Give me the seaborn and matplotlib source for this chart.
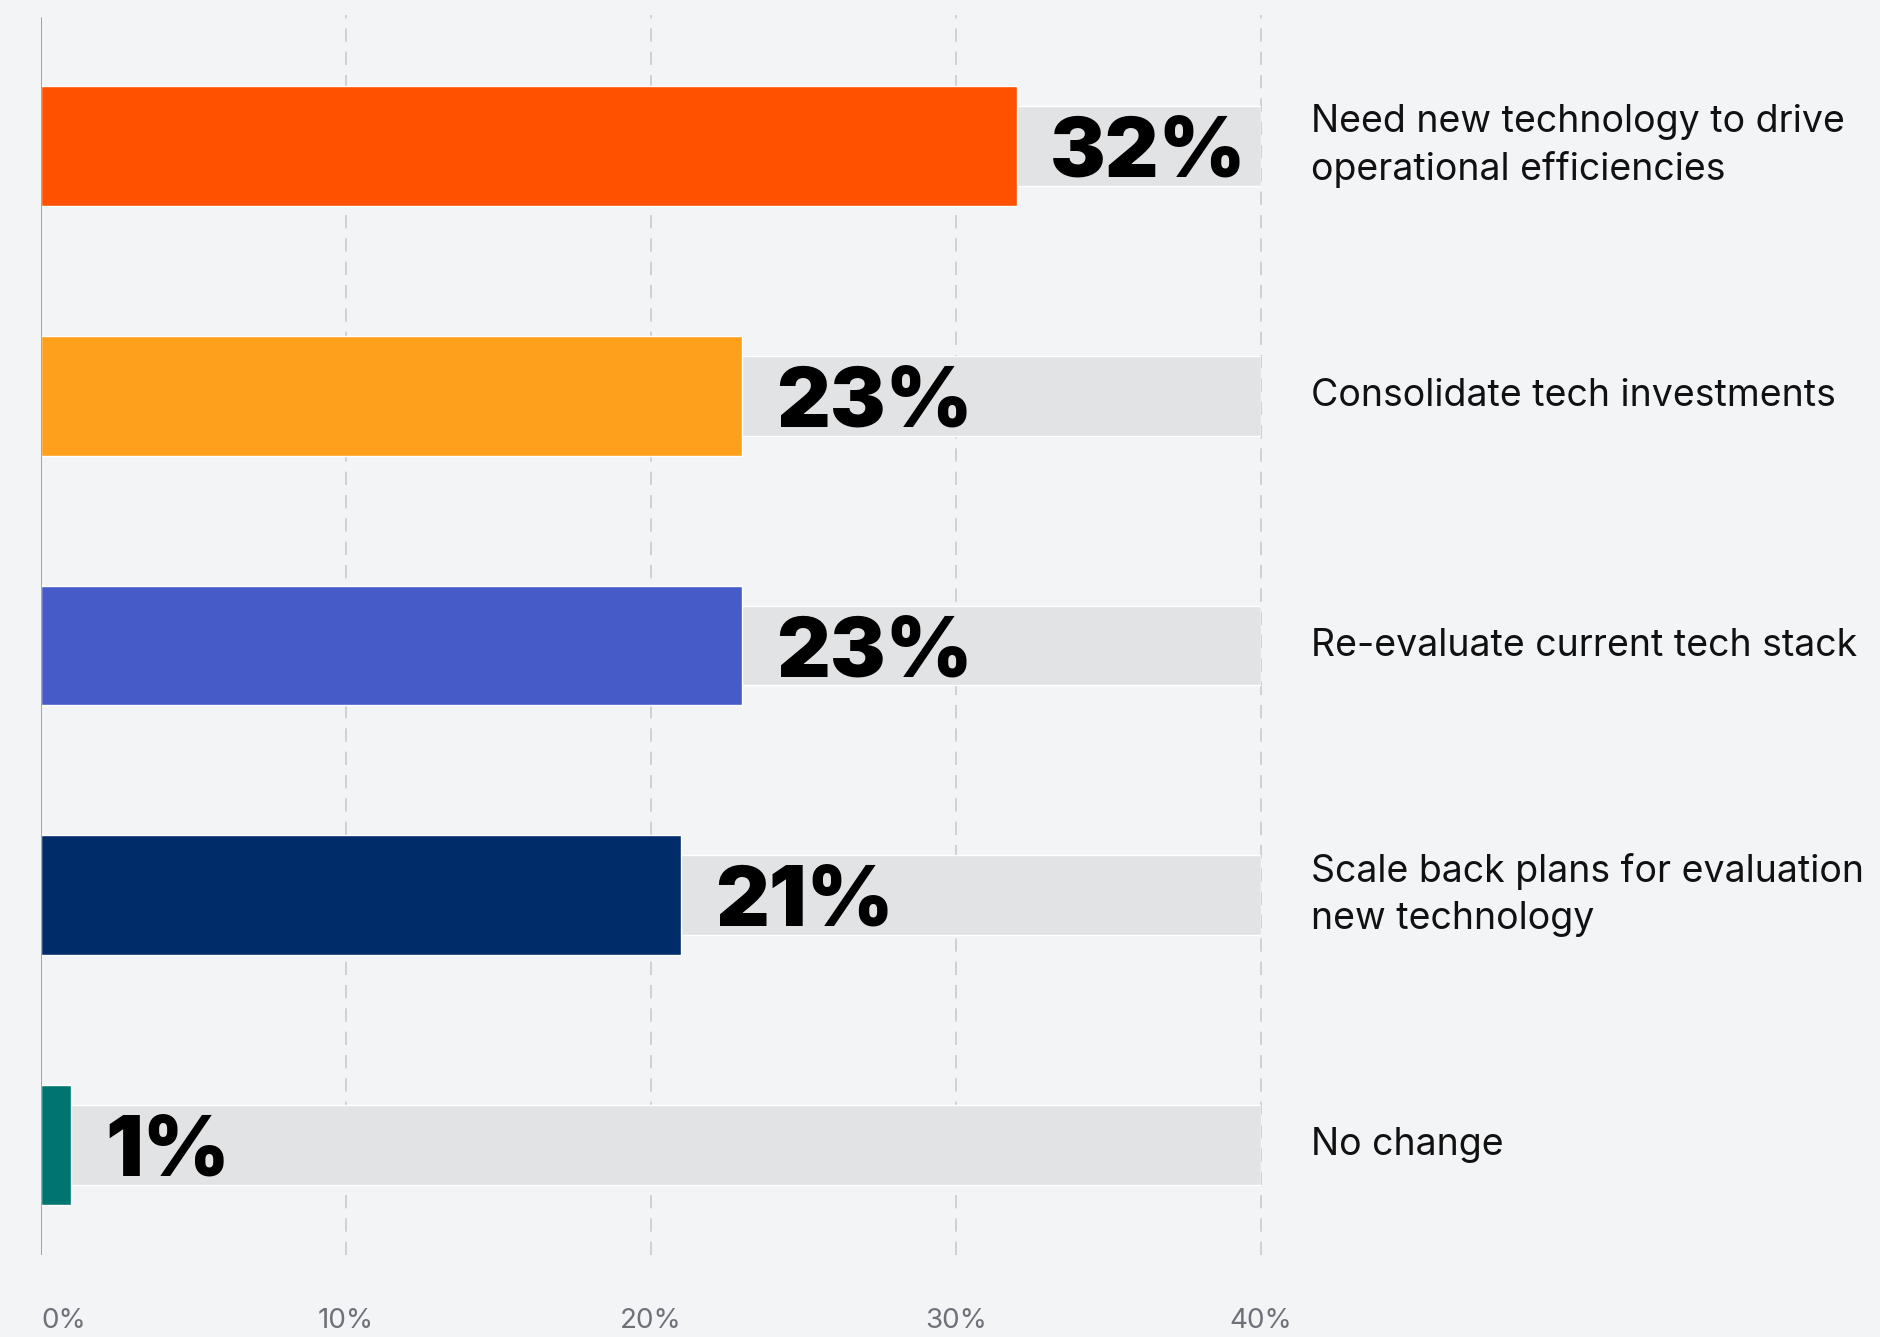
import matplotlib
matplotlib.use("Agg")
import matplotlib.pyplot as plt
import matplotlib.transforms as mtransforms
import seaborn as sns
import pandas as pd

# Survey responses: share of respondents per planned action
categories = [
    "Need new technology to drive\noperational efficiencies",
    "Consolidate tech investments",
    "Re-evaluate current tech stack",
    "Scale back plans for evaluation\nnew technology",
    "No change",
]
shares = [32, 23, 23, 21, 1]
track_max = [40, 40, 40, 40, 40]
bar_colors = ["#FF5100", "#FFA01C", "#465BC8", "#002D6A", "#00756F"]
tick_values = [0, 10, 20, 30, 40]
tick_labels = ["0%", "10%", "20%", "30%", "40%"]

df = pd.DataFrame({"category": categories, "share": shares, "track": track_max})

sns.set_theme(style="white")
plt.rcParams["font.family"] = ["Inter", "DejaVu Sans"]

BG = "#F3F4F6"
fig = plt.figure(figsize=(18.8, 13.37), dpi=100, facecolor=BG)
ax = fig.add_axes([0.0218, 0.0613, 0.6489, 0.9275])
ax.set_facecolor(BG)

# grey track behind each bar, spanning the full scale
sns.barplot(data=df, x="track", y="category", orient="h", color="#E2E3E5",
            width=0.32, ax=ax, saturation=1, zorder=2)
# coloured value bars
sns.barplot(data=df, x="share", y="category", hue="category", orient="h",
            palette=bar_colors, width=0.48, ax=ax, saturation=1,
            legend=False, zorder=3)

ax.set_xlim(0, 40)
ax.set_ylim(4.44, -0.524)

# dashed vertical guides and solid baseline
for v in tick_values[1:]:
    ax.axvline(v, color="#C9CACD", lw=1.2, ls=(0, (8, 6)), zorder=1, clip_on=False)
ax.axvline(0, color="#9A9CA0", lw=1.3, zorder=4, ymax=0.9975)

for s in ax.spines.values():
    s.set_visible(False)
ax.set_xlabel("")
ax.set_ylabel("")
ax.set_yticks([])
ax.set_xticks(tick_values)
ax.set_xticklabels(tick_labels, fontsize=20, color="#6E7178")
ax.tick_params(axis="x", length=0, pad=38)
ax.get_xticklabels()[0].set_ha("left")
ax.get_xticklabels()[0].set_x(-0.1)

# value labels just past the end of each bar
for i, v in enumerate(shares):
    ax.annotate(f"{v}%", xy=(v, i), xytext=(24, 0), textcoords="offset points",
                ha="left", va="center_baseline", fontsize=60, fontweight="black",
                color="#000000", zorder=5)

# category labels in the right margin
trans = mtransforms.blended_transform_factory(fig.transFigure, ax.transData)
for i, label in enumerate(categories):
    ax.text(1311 / 1880, i, label, transform=trans, ha="left", va="center",
            fontsize=27, color="#111111", linespacing=1.4)

fig.savefig("out.png", dpi=100, facecolor=BG)
